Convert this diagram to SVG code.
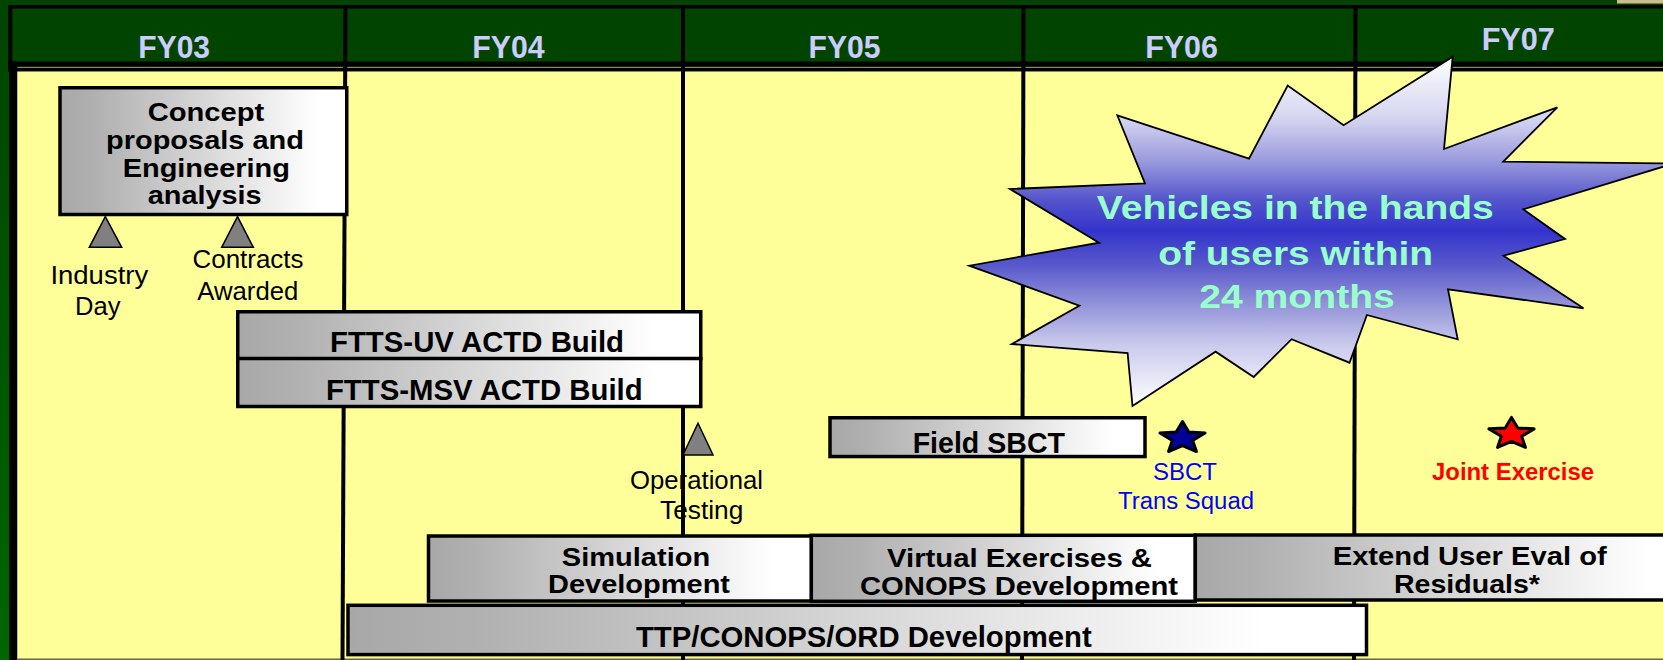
<svg xmlns="http://www.w3.org/2000/svg" width="1663" height="660" viewBox="0 0 1663 660">
<defs>
<linearGradient id="boxGrad" x1="0" y1="0" x2="1" y2="0">
<stop offset="0" stop-color="#a8a8a8"/>
<stop offset="0.12" stop-color="#b0b0b0"/>
<stop offset="0.9" stop-color="#ffffff"/>
<stop offset="1" stop-color="#ffffff"/>
</linearGradient>
<linearGradient id="leftGreen" x1="0" y1="0" x2="0" y2="1">
<stop offset="0" stop-color="#004400"/>
<stop offset="1" stop-color="#006600"/>
</linearGradient>
<linearGradient id="burstGrad" gradientUnits="userSpaceOnUse" x1="0" y1="56" x2="0" y2="406">
<stop offset="0" stop-color="#ffffff"/>
<stop offset="0.18" stop-color="#d4d4f0"/>
<stop offset="0.3" stop-color="#9a9ade"/>
<stop offset="0.41" stop-color="#5555cc"/>
<stop offset="0.5" stop-color="#3333cc"/>
<stop offset="0.6" stop-color="#5a5acc"/>
<stop offset="0.7" stop-color="#8e8ed8"/>
<stop offset="0.82" stop-color="#c8c8ec"/>
<stop offset="1" stop-color="#ffffff"/>
</linearGradient>
<path id="star" d="M0,-16.6 L6.27,-6.04 L22.54,-5.13 L10.14,2.31 L13.94,13.43 L0,7.47 L-13.94,13.43 L-10.14,2.31 L-22.54,-5.13 L-6.27,-6.04 Z"/>
<style>
.box{fill:url(#boxGrad);stroke:#000;stroke-width:3.5}
.bt{font-family:"Liberation Sans",Arial,sans-serif;font-weight:bold;fill:#000;text-anchor:middle}
.lbl{font-family:"Liberation Sans",Arial,sans-serif;font-weight:normal;fill:#000;text-anchor:middle;font-size:25.5px}
.hdr{font-family:"Liberation Sans",Arial,sans-serif;font-weight:bold;fill:#ccccff;text-anchor:middle;font-size:31px}
.tri{fill:#808080;stroke:#000;stroke-width:1.5;stroke-linejoin:miter}
.div{stroke:#000;stroke-width:4;fill:none}
.starshape{stroke:#000;stroke-width:3;stroke-linejoin:round}
.mint{fill:#99ffcc}
.blue{fill:#0000ff;font-size:23.5px}
.red{fill:#ff0000}
</style>
</defs>

<g id="background">
<rect x="0" y="0" width="1663" height="660" fill="#004400"/>
<rect x="0" y="0" width="9" height="660" fill="url(#leftGreen)"/>
<rect x="1617" y="0" width="46" height="3.5" fill="#cdbb8f"/>
<rect x="8" y="5" width="1655" height="3.5" fill="#000"/>
<rect x="8.3" y="5" width="4" height="60" fill="#000"/>
<rect x="8" y="61.5" width="1655" height="10" fill="#000"/>
<rect x="17" y="66.8" width="1646" height="1.2" fill="#8a8a6a"/>
<rect x="9.3" y="61.5" width="8" height="598.5" fill="#000"/>
<rect x="17.3" y="71.5" width="1645.7" height="588.5" fill="#ffff99"/>
<rect x="17.3" y="658.5" width="1645.7" height="1.5" fill="#666644"/>
</g>

<g id="grid">
<line class="div" x1="345.5" y1="5" x2="342.5" y2="660"/>
<line class="div" x1="683" y1="5" x2="683" y2="660"/>
<line class="div" x1="1023.5" y1="5" x2="1022" y2="660"/>
<line class="div" x1="1355.5" y1="5" x2="1354" y2="660"/>
</g>

<g id="header">
<text class="hdr" x="174.2" y="58" textLength="71.7" lengthAdjust="spacingAndGlyphs">FY03</text>
<text class="hdr" x="508.5" y="57.5" textLength="72.3" lengthAdjust="spacingAndGlyphs">FY04</text>
<text class="hdr" x="844.6" y="57.5" textLength="72" lengthAdjust="spacingAndGlyphs">FY05</text>
<text class="hdr" x="1181.6" y="57.5" textLength="72.7" lengthAdjust="spacingAndGlyphs">FY06</text>
<text class="hdr" x="1518.3" y="50" textLength="73.3" lengthAdjust="spacingAndGlyphs">FY07</text>
</g>

<g id="connectors"></g>

<g id="concept">
<rect class="box" x="60" y="87.75" width="286.75" height="126.75"/>
<text class="bt" font-size="26.5" x="206" y="120.7" textLength="116.7" lengthAdjust="spacingAndGlyphs">Concept</text>
<text class="bt" font-size="26.5" x="205" y="149" textLength="198" lengthAdjust="spacingAndGlyphs">proposals and</text>
<text class="bt" font-size="26.5" x="206.3" y="176.7" textLength="167.3" lengthAdjust="spacingAndGlyphs">Engineering</text>
<text class="bt" font-size="26.5" x="204.7" y="204" textLength="114" lengthAdjust="spacingAndGlyphs">analysis</text>
</g>

<g id="industry-day">
<polygon class="tri" points="105.3,216.7 121.7,247.3 89.3,247.3"/>
<text class="lbl" x="99.3" y="284" textLength="97.8" lengthAdjust="spacingAndGlyphs">Industry</text>
<text class="lbl" x="97.8" y="315" textLength="45.5" lengthAdjust="spacingAndGlyphs">Day</text>
</g>

<g id="contracts-awarded">
<polygon class="tri" points="237.5,216.7 253.3,247.3 221.7,247.3"/>
<text class="lbl" x="248" y="268" textLength="111" lengthAdjust="spacingAndGlyphs">Contracts</text>
<text class="lbl" x="247.8" y="299.5" textLength="101" lengthAdjust="spacingAndGlyphs">Awarded</text>
</g>

<g id="ftts-uv">
<rect class="box" x="237.75" y="311.75" width="463" height="47"/>
<text class="bt" font-size="29.5" x="477" y="351.7" textLength="294" lengthAdjust="spacingAndGlyphs">FTTS-UV ACTD Build</text>
</g>

<g id="ftts-msv">
<rect class="box" x="237.75" y="358.5" width="463" height="48"/>
<text class="bt" font-size="29.5" x="484.3" y="400" textLength="316.7" lengthAdjust="spacingAndGlyphs">FTTS-MSV ACTD Build</text>
</g>

<g id="operational-testing">
<polygon class="tri" points="698,423.3 713,455 683,455"/>
<text class="lbl" x="696.5" y="488.5" textLength="133" lengthAdjust="spacingAndGlyphs">Operational</text>
<text class="lbl" x="701.7" y="518.5" textLength="83.3" lengthAdjust="spacingAndGlyphs">Testing</text>
</g>

<g id="vehicles-burst">
<polygon fill="url(#burstGrad)" stroke="#000" stroke-width="1.8" stroke-linejoin="miter" points="1117.3,115.3 1249,158.7 1287.7,85.5 1343.6,125.2 1452.7,56.7 1444,149 1557.3,107.3 1503.3,161.7 1674,163.4 1523.3,209.3 1565,239 1503.5,255.7 1583.5,308.3 1448,289.3 1457.7,339.3 1366.9,315 1349.5,362.7 1291.6,339.2 1253.7,377 1215.6,351.7 1132.5,406 1127.6,353 1011.8,344 1079.3,305.7 969.3,265.7 1099,242.7 1010,189 1145,183.3"/>
<text class="bt mint" font-size="34" x="1295.3" y="218.5" textLength="397" lengthAdjust="spacingAndGlyphs">Vehicles in the hands</text>
<text class="bt mint" font-size="34" x="1295.7" y="265" textLength="275" lengthAdjust="spacingAndGlyphs">of users within</text>
<text class="bt mint" font-size="34" x="1297" y="308.3" textLength="195.7" lengthAdjust="spacingAndGlyphs">24 months</text>
</g>

<g id="field-sbct">
<rect class="box" x="830" y="417.75" width="315" height="38.8"/>
<text class="bt" font-size="29" x="988.8" y="453.3" textLength="152.3" lengthAdjust="spacingAndGlyphs">Field SBCT</text>
</g>

<g id="sbct-trans-squad">
<use href="#star" class="starshape" fill="#000099" transform="translate(1182.5,438.1)"/>
<text class="lbl blue" x="1185" y="480" textLength="64" lengthAdjust="spacingAndGlyphs">SBCT</text>
<text class="lbl blue" x="1186" y="509" textLength="136" lengthAdjust="spacingAndGlyphs">Trans Squad</text>
</g>

<g id="joint-exercise">
<use href="#star" class="starshape" fill="#ff0000" transform="translate(1511.5,434)"/>
<text class="bt red" font-size="23" x="1513" y="479.5" textLength="162" lengthAdjust="spacingAndGlyphs">Joint Exercise</text>
</g>

<g id="simulation-development">
<rect class="box" x="428.5" y="536" width="383" height="65"/>
<text class="bt" font-size="26.5" x="636" y="565.7" textLength="148.3" lengthAdjust="spacingAndGlyphs">Simulation</text>
<text class="bt" font-size="26.5" x="639" y="593.3" textLength="182" lengthAdjust="spacingAndGlyphs">Development</text>
</g>

<g id="virtual-exercises">
<rect class="box" x="811.3" y="535.3" width="384" height="66"/>
<text class="bt" font-size="26.5" x="1019.5" y="566.7" textLength="265" lengthAdjust="spacingAndGlyphs">Virtual Exercises &amp;</text>
<text class="bt" font-size="26.5" x="1019" y="595" textLength="318" lengthAdjust="spacingAndGlyphs">CONOPS Development</text>
</g>

<g id="extend-user-eval">
<rect class="box" x="1195.3" y="535" width="505" height="65"/>
<text class="bt" font-size="26.5" x="1469.7" y="565" textLength="274" lengthAdjust="spacingAndGlyphs">Extend User Eval of</text>
<text class="bt" font-size="26.5" x="1467" y="593.3" textLength="146" lengthAdjust="spacingAndGlyphs">Residuals*</text>
</g>

<g id="ttp-conops-ord">
<rect class="box" x="348" y="605.3" width="1018.5" height="49.3"/>
<text class="bt" font-size="29" x="863.8" y="647" textLength="455.7" lengthAdjust="spacingAndGlyphs">TTP/CONOPS/ORD Development</text>
</g>
</svg>
